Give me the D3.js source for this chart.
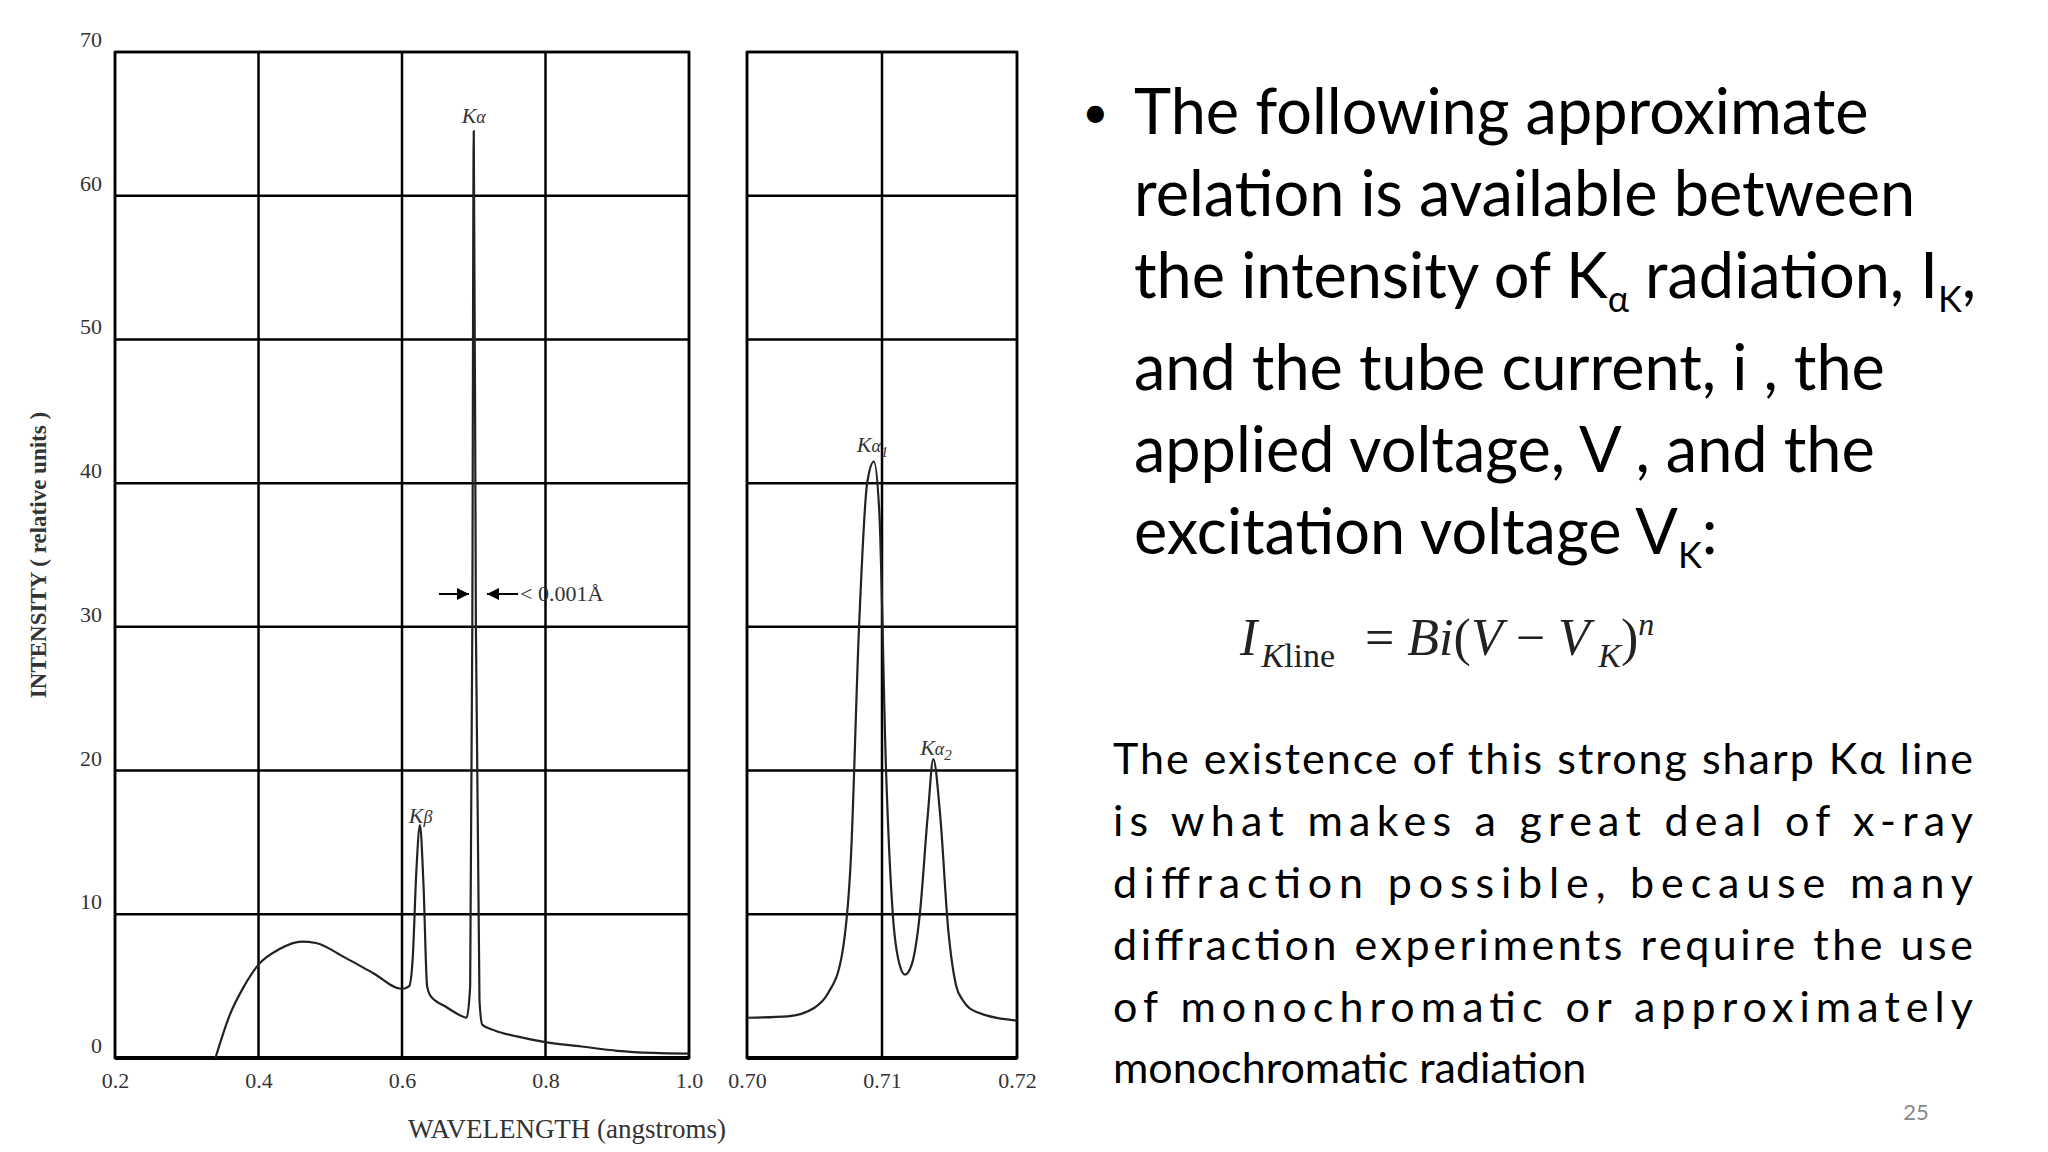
<!DOCTYPE html><html><head><meta charset="utf-8"><script src="https://cdn.jsdelivr.net/npm/d3@7"></script>
<style>body{margin:0;background:#fff}svg{display:block}</style></head><body><svg id="c" width="2048" height="1152"></svg>
<script>
const leftX=[0.34,0.36,0.38,0.40,0.43,0.46,0.48,0.52,0.56,0.60,0.61,0.615,0.62,0.625,0.63,0.635,0.64,0.66,0.68,0.69,0.695,0.698,0.70,0.703,0.708,0.712,0.73,0.76,0.80,0.85,0.90,0.95,1.0];
const leftY=[0,3,5,6.5,7.6,8.1,8.0,7.0,5.9,4.8,5.0,7,13,16.2,12,5,4.3,3.6,3.0,2.8,5,30,64.5,30,4,2.3,1.9,1.5,1.1,0.8,0.5,0.35,0.3];
const rightX=[0.700,0.703,0.705,0.706,0.707,0.7077,0.7083,0.7089,0.7094,0.7098,0.7103,0.7108,0.7113,0.7117,0.7122,0.7128,0.7134,0.7138,0.7143,0.7149,0.7155,0.716,0.717,0.72];
const rightY=[2.8,2.9,3.5,4.5,7,14,30,40,41.5,38,20,10,6.5,5.8,6.5,10,17,20.8,17,9,5,4,3.2,2.6];
const yTicks=[0,10,20,30,40,50,60,70];
const leftTicks=[0.2,0.4,0.6,0.8,1.0];
const rightTicks=[0.70,0.71,0.72];
const bulletLines=["The following approximate","relation is available between","the intensity of K|α| radiation, I|K|,","and the tube current, i , the","applied voltage, V , and the","excitation voltage V|K|:"];
const paraLines=["The existence of this strong sharp Kα line","is what makes a great deal of x-ray","diffraction possible, because many","diffraction experiments require the use","of monochromatic or approximately","monochromatic radiation"];

const svg=d3.select("#c");
const pTop=52,bot=1058;
const y=d3.scaleLinear().domain([0,70]).range([bot,pTop]);
const xl=d3.scaleLinear().domain([0.2,1.0]).range([115,689]);
const xr=d3.scaleLinear().domain([0.70,0.72]).range([747,1017]);
const serif="'Liberation Serif',serif";
function panel(x,ticks,fmt,xs,ys){
  const g=svg.append("g");
  ticks.forEach(t=>g.append("line").attr("x1",x(t)).attr("x2",x(t)).attr("y1",pTop).attr("y2",bot).attr("stroke","#000").attr("stroke-width",2.5));
  yTicks.forEach(t=>g.append("line").attr("x1",x.range()[0]).attr("x2",x.range()[1]).attr("y1",y(t)).attr("y2",y(t)).attr("stroke","#000").attr("stroke-width",2.5));
  g.append("rect").attr("x",x.range()[0]).attr("y",pTop).attr("width",x.range()[1]-x.range()[0]).attr("height",bot-pTop).attr("fill","none").attr("stroke","#000").attr("stroke-width",2.5);
  g.append("line").attr("x1",x.range()[0]).attr("x2",x.range()[1]).attr("y1",bot).attr("y2",bot).attr("stroke","#000").attr("stroke-width",4);
  const ax=d3.axisBottom(x).tickValues(ticks).tickFormat(fmt).tickSize(0).tickPadding(14);
  const a=g.append("g").attr("transform",`translate(0,${bot})`).call(ax);
  a.select(".domain").remove();
  a.selectAll("text").attr("font-family",serif).attr("font-size",22).attr("fill","#333");
  const pts=xs.map((v,i)=>[v,ys[i]]);
  g.append("path").datum(pts).attr("fill","none").attr("stroke","#222").attr("stroke-width",2.2)
   .attr("d",d3.line().x(d=>x(d[0])).y(d=>y(d[1])).curve(d3.curveMonotoneX));
}
panel(xl,leftTicks,d3.format(".1f"),leftX,leftY);
panel(xr,rightTicks,d3.format(".2f"),rightX,rightY);
const ya=svg.append("g").attr("transform","translate(102,0)").call(d3.axisLeft(y).tickValues(yTicks).tickSize(0).tickPadding(0));
ya.select(".domain").remove();
ya.selectAll("text").attr("font-family",serif).attr("font-size",22).attr("fill","#333").attr("dy","-0.25em");
svg.append("text").attr("transform","translate(46,555) rotate(-90)").attr("text-anchor","middle").attr("font-family",serif).attr("font-size",23).attr("font-weight","bold").attr("fill","#333").text("INTENSITY ( relative  units )");
svg.append("text").attr("x",567).attr("y",1138).attr("text-anchor","middle").attr("font-family",serif).attr("font-size",27).attr("fill","#333").text("WAVELENGTH (angstroms)");
function klabel(x0,y0,sub){const t=svg.append("text").attr("x",x0).attr("y",y0).attr("font-family",serif).attr("font-style","italic").attr("font-size",22).attr("fill","#333").attr("text-anchor","middle");t.append("tspan").text("K");t.append("tspan").attr("font-size",18).text(sub[0]);if(sub[1])t.append("tspan").attr("font-size",15).attr("dy",5).text(sub[1]);}
klabel(xl(0.70),123,["α"]);klabel(xl(0.626),823,["β"]);klabel(xr(0.7093),452,["α","1"]);klabel(xr(0.7140),755,["α","2"]);
const ay=594;
svg.append("defs").append("marker").attr("id","ah").attr("viewBox","0 0 10 10").attr("refX",10).attr("refY",5).attr("markerWidth",6).attr("markerHeight",6).attr("orient","auto").append("path").attr("d","M0,0L10,5L0,10z").attr("fill","#000");
svg.append("line").attr("x1",439).attr("x2",469).attr("y1",ay).attr("y2",ay).attr("stroke","#000").attr("stroke-width",2).attr("marker-end","url(#ah)");
svg.append("line").attr("x1",518).attr("x2",487).attr("y1",ay).attr("y2",ay).attr("stroke","#000").attr("stroke-width",2).attr("marker-end","url(#ah)");
svg.append("text").attr("x",520).attr("y",ay+7).attr("font-family",serif).attr("font-size",22).attr("fill","#333").text("< 0.001Å");
const sans="Lato,'Open Sans',sans-serif";
svg.append("text").attr("x",1082).attr("y",128).attr("font-family",sans).attr("font-size",46).text("•");
const by=[134,216,298,390,472,554];
bulletLines.forEach((l,i)=>{const t=svg.append("text").attr("x",1134).attr("y",by[i]).attr("font-family",sans).attr("font-size",63).attr("fill","#000");
 l.split("|").forEach((p,j)=>{if(!p)return;const s=t.append("tspan").text(p);if(j%2==1){s.attr("font-size",36).attr("dy",14);}else if(j>0){s.attr("dy",-14);}});});
const eq=svg.append("text").attr("x",1240).attr("y",655).attr("font-family",serif).attr("font-size",52).attr("font-style","italic").attr("fill","#222");
eq.append("tspan").text("I");eq.append("tspan").attr("font-size",34).attr("dy",12).attr("dx",4).text("K");eq.append("tspan").attr("font-size",34).attr("font-style","normal").text("line");
eq.append("tspan").attr("dy",-12).attr("font-style","normal").attr("dx",30).text("=  ");eq.append("tspan").text("Bi");eq.append("tspan").attr("font-style","normal").text("(");eq.append("tspan").text("V");eq.append("tspan").attr("font-style","normal").text("  −  ");eq.append("tspan").text("V");eq.append("tspan").attr("font-size",34).attr("dy",12).text(" K");eq.append("tspan").attr("dy",-12).attr("font-style","normal").text(")");eq.append("tspan").attr("font-size",32).attr("dy",-20).text("n");
const py=[774,836,898,960,1022,1083];
paraLines.forEach((l,i)=>{const t=svg.append("text").attr("x",1113).attr("y",py[i]).attr("font-family",sans).attr("font-size",43).attr("fill","#000").text(l);
 if(i<5)t.attr("textLength",860).attr("lengthAdjust","spacing");});
svg.append("text").attr("x",1916).attr("y",1120).attr("text-anchor","middle").attr("font-family",sans).attr("font-size",22).attr("fill","#888").text("25");
</script></body></html>
